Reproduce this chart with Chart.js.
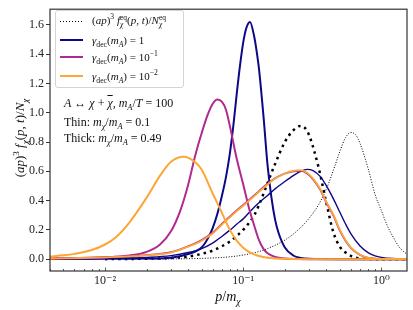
<!DOCTYPE html>
<html>
<head>
<meta charset="utf-8">
<script src="https://cdn.jsdelivr.net/npm/chart.js@4.4.0/dist/chart.umd.min.js"></script>
<style>
  body { margin: 0; background: #fff; }
  #wrap { position: relative; width: 413px; height: 310px; font-family: "Liberation Serif", "DejaVu Serif", serif; color: #111; }
  canvas { position: absolute; left: 0; top: 0; }
  .t { position: absolute; white-space: nowrap; line-height: 14px; }
  sub, sup { font-size: 70%; line-height: 0; }
  .ss { display: inline-block; vertical-align: -0.45em; font-size: 68%; line-height: 1.05; text-align: left; }
  .ss span { display: block; }
  .over { text-decoration: overline; }
  .sample { position: absolute; width: 23px; height: 0; }
  #legend { position: absolute; left: 55px; top: 10px; width: 127px; height: 76px; border: 1px solid #d4d4d4; border-radius: 3px; background: rgba(255,255,255,0.85); }
</style>
</head>
<body>
<div id="wrap">
  <canvas id="chart" width="413" height="310"></canvas>

  <div id="legend"></div>
  <div class="sample" style="left:60px;top:21px;height:1.2px;background:repeating-linear-gradient(to right,#000 0 1.2px,transparent 1.2px 3px);"></div>
  <div class="t" style="left:92px;top:13px;font-size:11px;">(<i>ap</i>)<sup>3</sup> <i>f</i><span class="ss"><span>eq</span><span><i>χ</i></span></span>(<i>p, t</i>)/<i>N</i><span class="ss"><span>eq</span><span><i>χ</i></span></span></div>
  <div class="sample" style="left:60px;top:39px;border-top:2px solid #0d0887;"></div>
  <div class="t" style="left:92px;top:33px;font-size:11px;"><i>γ</i><sub>dec</sub>(<i>m</i><sub><i>A</i></sub>) = 1</div>
  <div class="sample" style="left:60px;top:56px;border-top:2px solid #b12a90;"></div>
  <div class="t" style="left:92px;top:50px;font-size:11px;"><i>γ</i><sub>dec</sub>(<i>m</i><sub><i>A</i></sub>) = 10<sup>−1</sup></div>
  <div class="sample" style="left:60px;top:75px;border-top:2px solid #fca636;"></div>
  <div class="t" style="left:92px;top:69px;font-size:11px;"><i>γ</i><sub>dec</sub>(<i>m</i><sub><i>A</i></sub>) = 10<sup>−2</sup></div>

  <div class="t" style="left:64px;top:96px;font-size:12px;"><i>A</i> ↔ <i>χ</i> + <i class="over">χ</i>, <i>m</i><sub><i>A</i></sub>/<i>T</i> = 100</div>
  <div class="t" style="left:64px;top:115px;font-size:12px;">Thin: <i>m</i><sub><i>χ</i></sub>/<i>m</i><sub><i>A</i></sub> = 0.1</div>
  <div class="t" style="left:64px;top:131px;font-size:12px;">Thick: <i>m</i><sub><i>χ</i></sub>/<i>m</i><sub><i>A</i></sub> = 0.49</div>

  <div class="t" style="left:20px;top:138px;font-size:13px;transform:translate(-50%,-50%) rotate(-90deg);">(<i>ap</i>)<sup>3</sup> <i>f</i><sub><i>χ</i></sub>(<i>p, t</i>)/<i>N</i><sub><i>χ</i></sub></div>
  <div class="t" style="left:228px;top:297px;font-size:14px;transform:translate(-50%,-50%);"><i>p</i>/<i>m</i><sub><i>χ</i></sub></div>
</div>

<script>
// axis ticks
const xMajorTicks = [0.01, 0.1, 1];
const xTickLabels = ['10⁻²', '10⁻¹', '10⁰'];
const xMinorTicks = [0.004, 0.005, 0.006, 0.007, 0.008, 0.009,
  0.02, 0.03, 0.04, 0.05, 0.06, 0.07, 0.08, 0.09,
  0.2, 0.3, 0.4, 0.5, 0.6, 0.7, 0.8, 0.9];
const yTicks = [0, 0.2, 0.4, 0.6, 0.8, 1.0, 1.2, 1.4, 1.6];

// equilibrium curves (dotted)
const pEqThin = [0.01, 0.02, 0.03, 0.04, 0.05, 0.06, 0.07, 0.08, 0.09, 0.1, 0.12, 0.13, 0.15, 0.17, 0.2, 0.23, 0.26, 0.28, 0.3, 0.35, 0.4, 0.45, 0.5, 0.55, 0.6, 0.7, 0.8, 1.0, 1.53];
const eqThin = [0, 0.003, 0.008, 0.018, 0.036, 0.058, 0.088, 0.12, 0.16, 0.20, 0.30, 0.37, 0.52, 0.65, 0.80, 0.88, 0.91, 0.895, 0.845, 0.63, 0.38, 0.18, 0.085, 0.045, 0.022, 0.004, 0.001, 0, 0];
const pEqThick = [0.02, 0.04, 0.06, 0.08, 0.1, 0.13, 0.15, 0.2, 0.25, 0.3, 0.35, 0.4, 0.45, 0.5, 0.55, 0.6, 0.65, 0.7, 0.8, 0.9, 1.0, 1.1, 1.2, 1.35, 1.53];
const eqThick = [0, 0.003, 0.008, 0.016, 0.028, 0.052, 0.072, 0.13, 0.20, 0.28, 0.37, 0.48, 0.61, 0.735, 0.83, 0.865, 0.85, 0.79, 0.62, 0.44, 0.33, 0.23, 0.16, 0.08, 0.033];

// thin case, m_chi/m_A = 0.1
const pNavyThin = [0.004, 0.01, 0.02, 0.03, 0.04, 0.05, 0.055, 0.06, 0.065, 0.07, 0.075, 0.08, 0.085, 0.09, 0.095, 0.1, 0.105, 0.112, 0.12, 0.125, 0.13, 0.14, 0.15, 0.16, 0.17, 0.18, 0.2, 0.23, 0.26, 0.3, 0.5, 1.53];
const navyThin = [0.001, 0.002, 0.004, 0.01, 0.035, 0.08, 0.135, 0.21, 0.31, 0.43, 0.56, 0.72, 0.92, 1.14, 1.33, 1.48, 1.575, 1.62, 1.52, 1.42, 1.30, 0.98, 0.64, 0.42, 0.27, 0.18, 0.08, 0.025, 0.008, 0.002, 0, 0];
const pPurpleThin = [0.004, 0.006, 0.008, 0.01, 0.012, 0.015, 0.02, 0.025, 0.03, 0.035, 0.04, 0.045, 0.05, 0.055, 0.06, 0.065, 0.07, 0.075, 0.08, 0.09, 0.1, 0.11, 0.12, 0.13, 0.14, 0.15, 0.17, 0.2, 0.25, 0.3, 0.5, 1.53];
const purpleThin = [0.003, 0.005, 0.008, 0.012, 0.016, 0.025, 0.05, 0.10, 0.19, 0.33, 0.51, 0.71, 0.86, 0.98, 1.06, 1.09, 1.075, 1.02, 0.91, 0.68, 0.51, 0.35, 0.23, 0.13, 0.07, 0.04, 0.015, 0.004, 0.001, 0, 0, 0];
const pOrangeThin = [0.004, 0.005, 0.006, 0.008, 0.01, 0.012, 0.015, 0.02, 0.025, 0.03, 0.037, 0.045, 0.05, 0.06, 0.07, 0.08, 0.09, 0.1, 0.11, 0.12, 0.13, 0.15, 0.17, 0.2, 0.3, 0.5, 1.0, 1.53];
const orangeThin = [0.018, 0.026, 0.036, 0.062, 0.10, 0.15, 0.25, 0.42, 0.57, 0.665, 0.70, 0.662, 0.612, 0.45, 0.318, 0.20, 0.125, 0.078, 0.05, 0.033, 0.022, 0.01, 0.005, 0.002, 0, 0, 0, 0];

// thick case, m_chi/m_A = 0.49
const pThick = [0.004, 0.006, 0.01, 0.015, 0.02, 0.03, 0.04, 0.05, 0.06, 0.07, 0.08, 0.09, 0.1, 0.12, 0.13, 0.15, 0.17, 0.2, 0.23, 0.26, 0.29, 0.32, 0.36, 0.4, 0.45, 0.5, 0.55, 0.6, 0.7, 0.8, 0.9, 1.0, 1.2, 1.53];
const navyThick = [0.002, 0.003, 0.005, 0.008, 0.012, 0.024, 0.045, 0.072, 0.11, 0.155, 0.198, 0.24, 0.275, 0.355, 0.385, 0.435, 0.48, 0.53, 0.57, 0.60, 0.613, 0.605, 0.565, 0.50, 0.41, 0.32, 0.24, 0.175, 0.09, 0.045, 0.022, 0.012, 0.004, 0.001];
const purpleThick = [0.005, 0.008, 0.013, 0.02, 0.028, 0.048, 0.088, 0.13, 0.18, 0.24, 0.29, 0.335, 0.37, 0.435, 0.465, 0.515, 0.552, 0.585, 0.6, 0.603, 0.585, 0.545, 0.475, 0.385, 0.295, 0.195, 0.125, 0.077, 0.028, 0.009, 0.004, 0.002, 0.001, 0];
const orangeThick = [0.004, 0.007, 0.012, 0.019, 0.026, 0.045, 0.085, 0.125, 0.175, 0.235, 0.285, 0.33, 0.365, 0.43, 0.46, 0.51, 0.55, 0.585, 0.603, 0.608, 0.59, 0.55, 0.48, 0.39, 0.30, 0.20, 0.13, 0.08, 0.03, 0.01, 0.004, 0.002, 0.001, 0];

const NAVY = '#0d0887', PURPLE = '#b12a90', ORANGE = '#fca636';

function pts(xs, ys) {
  return xs.map((x, i) => ({ x: x, y: ys[i] }));
}

function line(xs, ys, color, width, dash) {
  return {
    data: pts(xs, ys),
    borderColor: color,
    borderWidth: width,
    borderDash: dash || [],
    borderCapStyle: 'butt',
    pointRadius: 0,
    fill: false,
    cubicInterpolationMode: 'monotone'
  };
}

// bottom -> top
const datasets = [
  line(pEqThin, eqThin, '#000', 2.5, [2.5, 4.1]),
  line(pEqThick, eqThick, '#000', 1, [1, 1.65]),
  line(pNavyThin, navyThin, NAVY, 2),
  line(pThick, navyThick, NAVY, 1.4),
  line(pPurpleThin, purpleThin, PURPLE, 2),
  line(pThick, purpleThick, PURPLE, 1.8),
  line(pOrangeThin, orangeThin, ORANGE, 2),
  line(pThick, orangeThick, ORANGE, 1.8)
];
datasets.forEach((d, i) => d.order = datasets.length - i);

const framePlugin = {
  id: 'frame',
  afterDatasetsDraw(chart) {
    const ctx = chart.ctx, a = chart.chartArea, x = chart.scales.x;
    ctx.save();
    ctx.strokeStyle = '#333';
    ctx.lineWidth = 0.8;
    ctx.beginPath();
    xMinorTicks.forEach(v => {
      const px = Math.round(x.getPixelForValue(v)) + 0.5;
      ctx.moveTo(px, a.bottom); ctx.lineTo(px, a.bottom - 2);
    });
    xMajorTicks.forEach(v => {
      const px = Math.round(x.getPixelForValue(v)) + 0.5;
      ctx.moveTo(px, a.bottom); ctx.lineTo(px, a.bottom - 3.5);
    });
    ctx.stroke();
    ctx.lineWidth = 1.2;
    ctx.strokeRect(a.left, a.top, a.right - a.left, a.bottom - a.top);
    ctx.restore();
  }
};

new Chart(document.getElementById('chart'), {
  type: 'line',
  data: { datasets: datasets },
  plugins: [framePlugin],
  options: {
    responsive: false,
    animation: false,
    devicePixelRatio: 1,
    layout: { padding: { top: 5, right: 6, left: 0, bottom: 0 } },
    plugins: { legend: { display: false }, tooltip: { enabled: false } },
    scales: {
      x: {
        type: 'logarithmic',
        min: 0.004,
        max: 1.53,
        afterBuildTicks: s => { s.ticks = xMajorTicks.map(v => ({ value: v, major: true })); },
        afterFit: s => { s.height = 39; },
        border: { display: false },
        grid: { display: true, drawOnChartArea: false, drawTicks: false },
        ticks: {
          autoSkip: false, maxRotation: 0, padding: 3, color: '#222',
          font: { family: '"Liberation Serif", "DejaVu Serif", serif', size: 12 },
          callback: v => xTickLabels[xMajorTicks.indexOf(v)]
        }
      },
      y: {
        type: 'linear',
        min: -0.081,
        max: 1.707,
        afterBuildTicks: s => { s.ticks = yTicks.map(v => ({ value: v })); },
        afterFit: s => { s.width = 50; },
        border: { display: false },
        grid: { drawOnChartArea: false, drawTicks: true, tickLength: 4, tickColor: '#333' },
        ticks: {
          padding: 2, color: '#222',
          font: { family: '"Liberation Serif", "DejaVu Serif", serif', size: 12 },
          callback: v => v.toFixed(1)
        }
      }
    }
  }
});
</script>
</body>
</html>
